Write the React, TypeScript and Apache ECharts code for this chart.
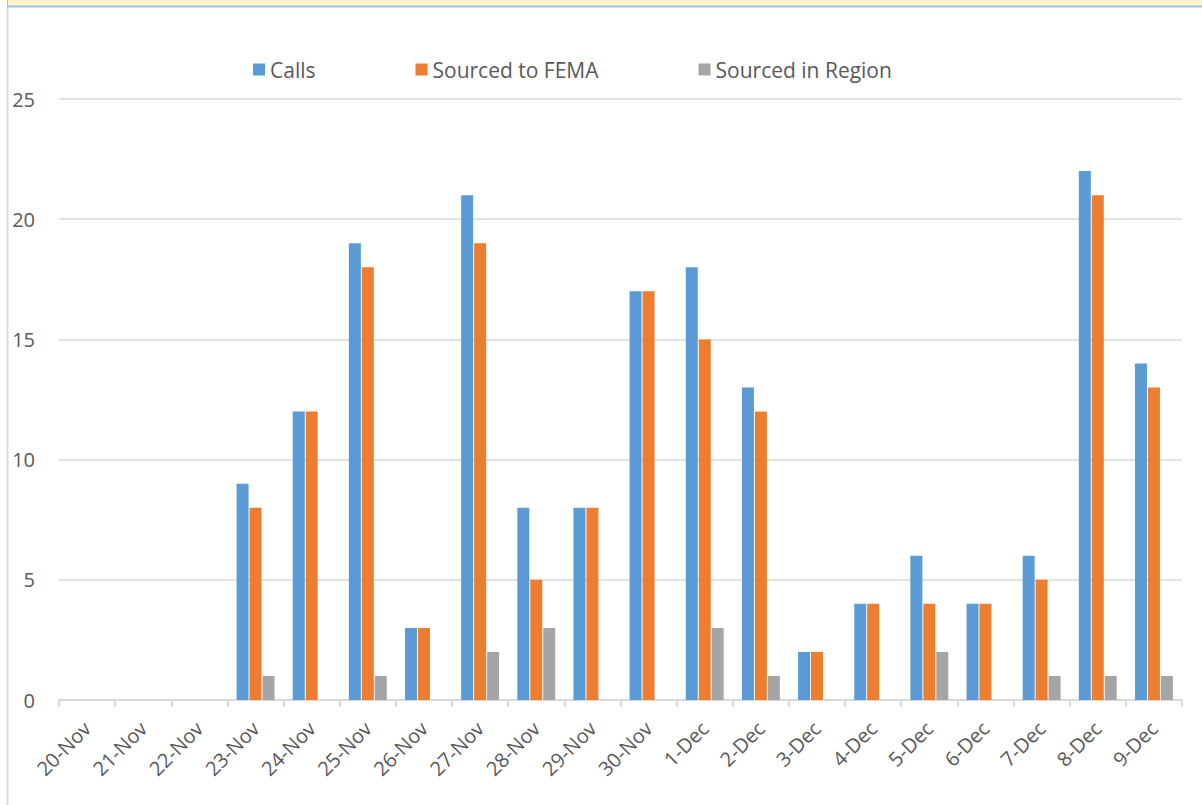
import React, { useEffect, useRef } from "react";
import * as echarts from "echarts";

const categories = ["20-Nov","21-Nov","22-Nov","23-Nov","24-Nov","25-Nov","26-Nov","27-Nov","28-Nov","29-Nov","30-Nov","1-Dec","2-Dec","3-Dec","4-Dec","5-Dec","6-Dec","7-Dec","8-Dec","9-Dec"];
const calls = [0,0,0,9,12,19,3,21,8,8,17,18,13,2,4,6,4,6,22,14];
const sourcedFEMA = [0,0,0,8,12,18,3,19,5,8,17,15,12,2,4,4,4,5,21,13];
const sourcedRegion = [0,0,0,1,0,1,0,2,3,0,0,3,1,0,0,2,0,1,1,1];
const yTicks = [0, 5, 10, 15, 20, 25];

const FONT = "'Open Sans', sans-serif";
const TXT = "#595959";

export default function App() {
  const ref = useRef<HTMLDivElement>(null);
  useEffect(() => {
    document.body.style.margin = "0";
    const chart = echarts.init(ref.current!, null, { renderer: "svg" });
    const bar = (name: string, data: number[], color: string) => ({
      name,
      type: "bar",
      data,
      barWidth: 12,
      barGap: "8%",
      itemStyle: { color },
    });
    chart.setOption({
      animation: false,
      backgroundColor: "#ffffff",
      textStyle: { fontFamily: FONT },
      graphic: [
        { type: "rect", shape: { x: 7, y: 0, width: 1195, height: 6 }, style: { fill: "#FFF2CC" } },
        { type: "line", shape: { x1: 7, y1: 6.5, x2: 1202, y2: 6.5 }, style: { stroke: "#9DC3E6", lineWidth: 2 } },
        { type: "line", shape: { x1: 7.5, y1: 0, x2: 7.5, y2: 7 }, style: { stroke: "#9DC3E6", lineWidth: 1 } },
        { type: "line", shape: { x1: 7.5, y1: 8, x2: 7.5, y2: 805 }, style: { stroke: "#d9d9d9", lineWidth: 2 } },
      ],
      legend: {
        top: 54,
        left: 248,
        itemWidth: 12,
        itemHeight: 12,
        itemGap: 100,
        icon: "rect",
        textStyle: { color: TXT, fontSize: 21, fontFamily: FONT },
        data: ["Calls", "Sourced to FEMA", "Sourced in Region"],
      },
      grid: { left: 59, right: 20, top: 99, bottom: 105, containLabel: false },
      xAxis: {
        type: "category",
        data: categories,
        axisLine: { lineStyle: { color: "#d9d9d9", width: 2 } },
        axisTick: { show: true, length: 7, lineStyle: { color: "#d9d9d9", width: 2 } },
        axisLabel: { rotate: 45, color: TXT, fontSize: 20, margin: 25, fontFamily: FONT, interval: 0 },
      },
      yAxis: {
        type: "value",
        min: yTicks[0],
        max: yTicks[yTicks.length - 1],
        interval: 5,
        axisLine: { show: false },
        axisTick: { show: false },
        splitLine: { lineStyle: { color: "#d9d9d9", width: 1.5 } },
        axisLabel: { color: TXT, fontSize: 20, margin: 24, fontFamily: FONT },
      },
      series: [
        bar("Calls", calls, "#5B9BD5"),
        bar("Sourced to FEMA", sourcedFEMA, "#ED7D31"),
        bar("Sourced in Region", sourcedRegion, "#A5A5A5"),
      ],
    });
    return () => chart.dispose();
  }, []);
  return <div ref={ref} style={{ position: "absolute", left: 0, top: 0, width: 1202, height: 805 }} />;
}
